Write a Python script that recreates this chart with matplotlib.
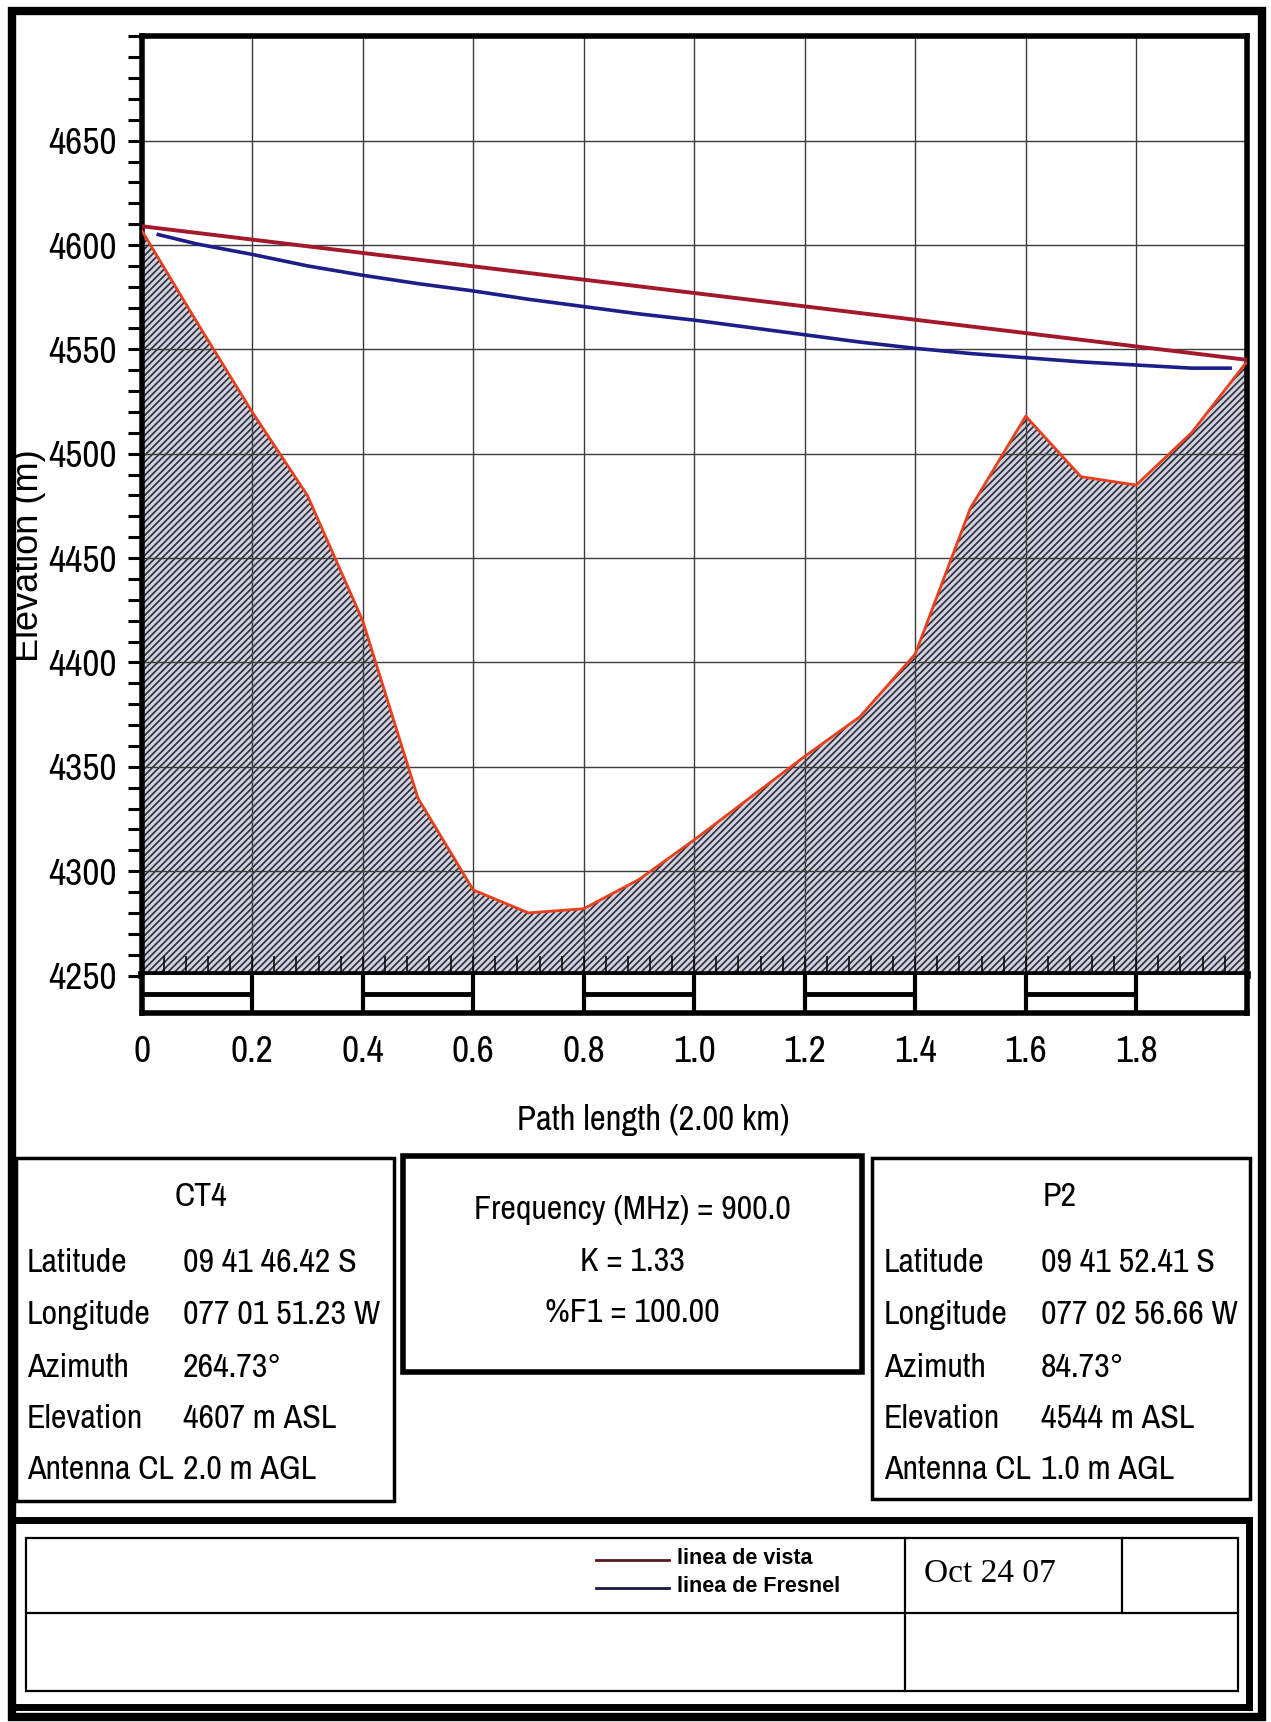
import numpy as np
import matplotlib
matplotlib.use('Agg')
import matplotlib.pyplot as plt
from matplotlib import font_manager
from matplotlib.patches import Rectangle
from matplotlib.lines import Line2D

# terrain profile (km, m ASL)
dist_km = [0.0, 0.1, 0.2, 0.3, 0.4, 0.5, 0.6, 0.7, 0.8, 0.9, 1.0,
           1.1, 1.2, 1.3, 1.4, 1.5, 1.6, 1.7, 1.8, 1.9, 2.0]
terrain = [4607, 4563, 4520, 4480, 4420, 4335, 4291, 4280, 4282, 4296, 4315,
           4335, 4355, 4374, 4404, 4474, 4518, 4489, 4485, 4510, 4544]

# line of sight (antenna to antenna)
los_x = [0.0, 2.0]
los_y = [4609, 4545]

# lower edge of first Fresnel zone
fres_x = [0.03, 0.1, 0.2, 0.3, 0.4, 0.5, 0.6, 0.7, 0.8, 0.9, 1.0,
          1.1, 1.2, 1.3, 1.4, 1.5, 1.6, 1.7, 1.8, 1.9, 1.97]
fres_y = [4605, 4600.5, 4595.5, 4590, 4585.5, 4581.5, 4578, 4574, 4570.5, 4567, 4564,
          4560.5, 4557, 4553.5, 4550.5, 4548, 4546, 4544, 4542.5, 4541, 4541]

x_ticks = [0, 0.2, 0.4, 0.6, 0.8, 1.0, 1.2, 1.4, 1.6, 1.8]
x_labels = ['0', '0.2', '0.4', '0.6', '0.8', '1.0', '1.2', '1.4', '1.6', '1.8']
y_ticks = [4250, 4300, 4350, 4400, 4450, 4500, 4550, 4600, 4650]

site_a = 'CT4'
site_b = 'P2'
row_names = ['Latitude', 'Longitude', 'Azimuth', 'Elevation', 'Antenna CL']
site_a_vals = ['09 41 46.42 S', '077 01 51.23 W', '264.73\u00b0', '4607 m ASL', '2.0 m AGL']
site_b_vals = ['09 41 52.41 S', '077 02 56.66 W', '84.73\u00b0', '4544 m ASL', '1.0 m AGL']
link_info = ['Frequency (MHz) = 900.0', 'K = 1.33', '%F1 = 100.00']
legend_names = ['linea de vista', 'linea de Fresnel']
date_text = 'Oct 24 07'

LOS_COLOR = '#a3182b'
FRES_COLOR = '#1e1e8a'
TERR_COLOR = '#e8401c'

# a condensed sans like the original print, whichever is installed
avail = {f.name for f in font_manager.fontManager.ttflist}
NARROW = 'Liberation Sans'
for cand in ['Liberation Sans Narrow', 'Arial Narrow', 'Archivo Narrow', 'Roboto Condensed',
             'PT Sans Narrow', 'Pragati Narrow', 'Fira Sans Condensed',
             'IBM Plex Sans Condensed', 'Open Sans Condensed']:
    if cand in avail:
        NARROW = cand
        break
NFAM = [NARROW, 'DejaVu Sans']
TS = 24.5  # size of the condensed box texts

W, H = 1271, 1722


def fx(p):
    return p / W


def fy(p):
    return 1 - p / H


fig = plt.figure(figsize=(W / 100, H / 100), dpi=100)

# main profile axes
left, right = 141.7, 1246.7
ax = fig.add_axes([fx(left), fy(975.5), fx(right) - fx(left), fy(36.3) - fy(975.5)])
ax.set_xlim(0, 2.0)
ax.set_ylim(4250, 4700)

plt.rcParams['hatch.linewidth'] = 1.3
ax.fill_between(dist_km, terrain, 4250, facecolor='#d4d4dc', edgecolor='#35354a',
                hatch='/////', linewidth=0, zorder=1)
ax.plot(dist_km, terrain, color=TERR_COLOR, lw=2.0, zorder=4)
ax.plot(los_x, los_y, color=LOS_COLOR, lw=2.8, zorder=5)
ax.plot(fres_x, fres_y, color=FRES_COLOR, lw=2.6, zorder=5)

ax.set_xticks(x_ticks + [2.0])
ax.set_xticks(np.arange(0, 2.0, 0.04), minor=True)
ax.set_yticks(y_ticks)
ax.set_yticks(np.arange(4250, 4701, 10), minor=True)
ax.set_yticklabels([str(v) for v in y_ticks], family=NFAM, fontsize=27)
ax.tick_params(axis='x', which='both', direction='in', length=14, width=1.1,
               labelbottom=False, top=False)
ax.tick_params(axis='y', which='both', direction='out', length=10, width=2.2, pad=8)
ax.grid(True, which='major', color='#3c3c3c', lw=1.0)
for s in ['top', 'right', 'left']:
    ax.spines[s].set_linewidth(4)
ax.spines['bottom'].set_linewidth(5.5)

# scale band under the profile
band = fig.add_axes([fx(left), fy(1012.8), fx(right) - fx(left), fy(975.5) - fy(1012.8)])
band.set_xlim(0, 2.0)
band.set_ylim(0, 1)
for i in range(len(x_ticks)):
    if i % 2 == 0:
        band.hlines(0.5, x_ticks[i], x_ticks[i] + 0.2, color='k', lw=3.5)
band.vlines(x_ticks[1:], 0, 1, color='k', lw=3)
band.set_yticks([])
band.set_xticks(x_ticks)
band.set_xticklabels(x_labels, family=NFAM, fontsize=27)
band.tick_params(axis='x', length=0, pad=16)
band.spines['top'].set_visible(False)
for s in ['bottom', 'left', 'right']:
    band.spines[s].set_linewidth(4)

fig.text(fx(29), fy(556), 'Elevation (m)', rotation=90, ha='center', va='center',
         family=['Liberation Sans', 'DejaVu Sans'], fontsize=26)
fig.text(fx(653), fy(1120), 'Path length (2.00 km)', ha='center', va='center',
         family=NFAM, fontsize=25)


def frame(x0, y0, x1, y1, lw):
    fig.add_artist(Rectangle((fx(x0), fy(y1)), fx(x1) - fx(x0), fy(y0) - fy(y1),
                             transform=fig.transFigure, fill=False, ec='k', lw=lw))


def hline(x0, x1, y, lw):
    fig.add_artist(Line2D([fx(x0), fx(x1)], [fy(y), fy(y)], transform=fig.transFigure,
                          color='k', lw=lw))


def vline(x, y0, y1, lw):
    fig.add_artist(Line2D([fx(x), fx(x)], [fy(y0), fy(y1)], transform=fig.transFigure,
                          color='k', lw=lw))


# page frame
frame(12, 11, 1262, 1717, 6)

# site boxes
info_font = dict(family=NFAM, fontsize=TS, va='center')
row_y = [1263, 1315, 1368, 1419, 1470]
frame(16, 1158, 394, 1501, 2.5)
fig.text(fx(201), fy(1197), site_a, ha='center', **info_font)
for name, val, y in zip(row_names, site_a_vals, row_y):
    fig.text(fx(27), fy(y), name, ha='left', **info_font)
    fig.text(fx(183), fy(y), val, ha='left', **info_font)

frame(872, 1158, 1250, 1499, 2.5)
fig.text(fx(1060), fy(1197), site_b, ha='center', **info_font)
for name, val, y in zip(row_names, site_b_vals, row_y):
    fig.text(fx(884), fy(y), name, ha='left', **info_font)
    fig.text(fx(1041), fy(y), val, ha='left', **info_font)

frame(403, 1156, 862, 1372, 4)
for txt, y in zip(link_info, [1210, 1262, 1313]):
    fig.text(fx(632), fy(y), txt, ha='center', **info_font)

# title block at the bottom
hline(12, 1249, 1520, 5)
hline(12, 1249, 1707, 5)
vline(1249, 1520, 1707, 5)
frame(26, 1538, 1238, 1691, 1.6)
hline(26, 1238, 1613, 1.6)
vline(905, 1538, 1691, 1.6)
vline(1122, 1538, 1613, 1.6)

for name, col, y in zip(legend_names, ['#5a1a22', '#1a1a44'], [1558, 1586]):
    fig.add_artist(Line2D([fx(596), fx(669)], [fy(y + 2), fy(y + 2)],
                          transform=fig.transFigure, color=col, lw=2))
    fig.text(fx(677), fy(y), name, ha='left', va='center', fontweight='bold',
             family=['Liberation Sans', 'DejaVu Sans'], fontsize=15.5)
fig.text(fx(924), fy(1574), date_text, ha='left', va='center',
         family=['Liberation Serif', 'DejaVu Serif'], fontsize=24)

fig.savefig('out.png', dpi=100)
